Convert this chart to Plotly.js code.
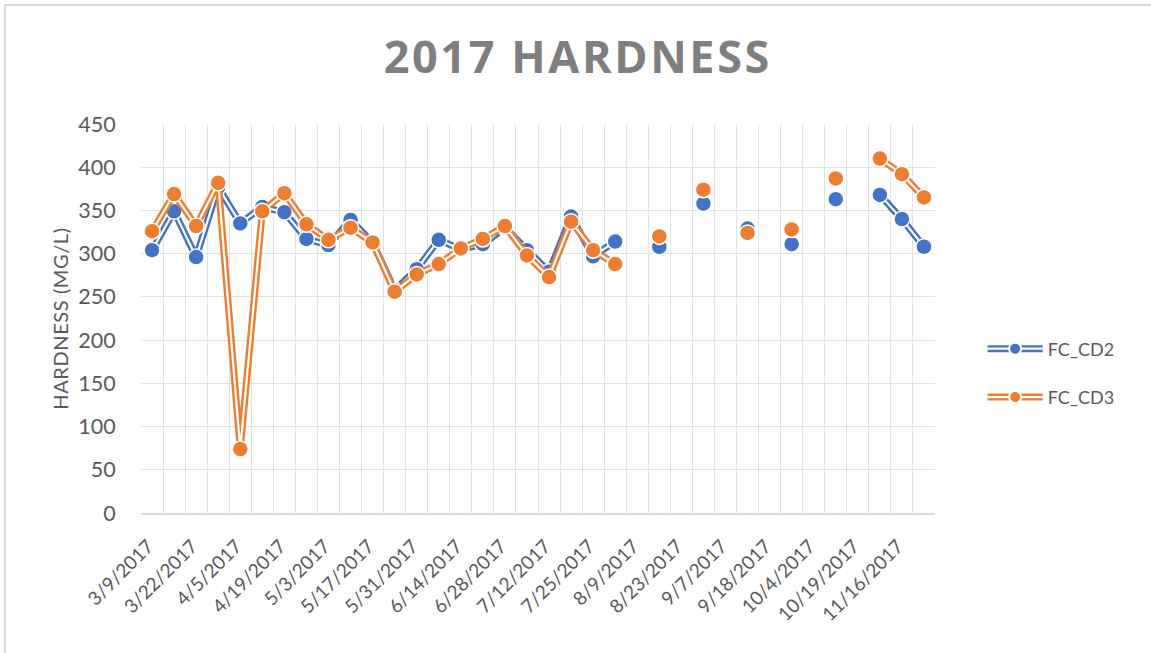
<!DOCTYPE html>
<html>
<head>
<meta charset="utf-8">
<script src="https://cdn.plot.ly/plotly-3.0.1.min.js"></script>
<style>
html,body{margin:0;padding:0;background:#fff;}
#chart{width:1151px;height:653px;}
</style>
</head>
<body>
<div id="chart"></div>
<script>
// ---- data ----
var dates = ['3/9/2017','3/15/2017','3/22/2017','3/29/2017','4/5/2017','4/12/2017','4/19/2017','4/26/2017',
  '5/3/2017','5/10/2017','5/17/2017','5/24/2017','5/31/2017','6/7/2017','6/14/2017','6/21/2017',
  '6/28/2017','7/5/2017','7/12/2017','7/19/2017','7/25/2017','8/2/2017','8/9/2017','8/16/2017',
  '8/23/2017','8/30/2017','9/7/2017','9/13/2017','9/18/2017','9/27/2017','10/4/2017','10/11/2017',
  '10/19/2017','11/2/2017','11/16/2017','11/30/2017'];
var fcCD2 = [304,349,296,377,335,354,348,317,310,339,313,258,282,316,305,311,
  330,304,279,343,297,314,null,308,null,358,null,329,null,311,null,363,null,368,340,308];
var fcCD3 = [326,369,332,382,74,349,370,334,316,330,313,256,276,288,306,317,
  332,298,273,337,304,288,null,320,null,374,null,324,null,328,null,387,null,410,392,365];
var seriesNames = ['FC_CD2','FC_CD3'];
var seriesColors = ['#4472C4','#ED7D31'];

// ---- build traces ----
var allSeries = [fcCD2, fcCD3];
var traces = [];
allSeries.forEach(function(vals, s){
  var col = seriesColors[s], nm = seriesNames[s], grp = 'g'+s;
  traces.push({x:dates, y:vals, type:'scatter', mode:'lines', name:nm, legendgroup:grp,
    legend:'legend', connectgaps:false, line:{color:col, width:7}, hoverinfo:'skip'});
  traces.push({x:dates, y:vals, type:'scatter', mode:'lines', name:nm, legendgroup:grp,
    legend:'legend2', connectgaps:false, line:{color:'#ffffff', width:2.2}, hoverinfo:'skip'});
  traces.push({x:dates, y:vals, type:'scatter', mode:'markers', name:nm, legendgroup:grp,
    legend:'legend3', marker:{color:col, size:16, line:{color:'#ffffff', width:1.5}}});
});

var tickText = dates.map(function(d,i){return i%2===0 ? d : '';});
var fontFam = 'Lato, "Open Sans", sans-serif';
var legBase = {x:1.06, y:0.36, xanchor:'left', yanchor:'middle', bgcolor:'rgba(0,0,0,0)',
  itemwidth:55, tracegroupgap:22, traceorder:'grouped', itemsizing:'trace',
  font:{family:fontFam, size:18, color:'#595959'}};
function leg(extra){var o=JSON.parse(JSON.stringify(legBase)); for(var k in extra){o[k]=extra[k];} return o;}

var layout = {
  width:1151, height:653,
  margin:{l:141, r:216, t:124, b:140},
  paper_bgcolor:'#ffffff', plot_bgcolor:'#ffffff',
  title:{text:'2017 HARDNESS', x:0.502, xanchor:'center', y:0.912, yanchor:'middle',
    font:{family:'"Open Sans", sans-serif', size:45, color:'#7f7f7f', weight:700}},
  xaxis:{type:'category', categoryorder:'array', categoryarray:dates, range:[-0.5, 35.5],
    tickmode:'array', tickvals:dates, ticktext:tickText, tickson:'boundaries',
    tickangle:-45, ticks:'', ticklabelstandoff:13, ticklabelshift:-4,
    showgrid:true, gridcolor:'#e3e3e3', gridwidth:1.4,
    showline:true, linecolor:'#d9d9d9', linewidth:1.5, zeroline:false,
    tickfont:{family:fontFam, size:19, color:'#595959'}, automargin:false, fixedrange:true},
  yaxis:{range:[0,450], dtick:50, tick0:0, showgrid:true, gridcolor:'#e3e3e3', gridwidth:1.4,
    zeroline:false, showline:false, ticks:'outside', ticklen:20, tickcolor:'rgba(0,0,0,0)',
    tickfont:{family:fontFam, size:21.5, color:'#595959'},
    title:{text:'HARDNESS (MG/L)', standoff:4, font:{family:fontFam, size:20, color:'#595959'}},
    automargin:false, fixedrange:true},
  legend: leg({}),
  legend2: leg({font:{family:fontFam, size:18, color:'rgba(0,0,0,0)'}}),
  legend3: leg({itemsizing:'constant', font:{family:fontFam, size:18, color:'rgba(0,0,0,0)'}}),
  shapes:[{type:'rect', xref:'paper', yref:'paper', x0:-136/794, x1:1.5, y0:-1, y1:(513-5)/389,
    line:{color:'#d9d9d9', width:2}, fillcolor:'rgba(0,0,0,0)', layer:'below'}],
  hovermode:'closest', showlegend:true
};

Plotly.newPlot('chart', traces, layout, {displayModeBar:false}).then(function(){
  document.querySelectorAll('.gtitle').forEach(function(t){ t.style.letterSpacing='2.6px'; });
  document.querySelectorAll('.ytitle').forEach(function(t){ t.style.letterSpacing='0.6px'; });
});
</script>
</body>
</html>
